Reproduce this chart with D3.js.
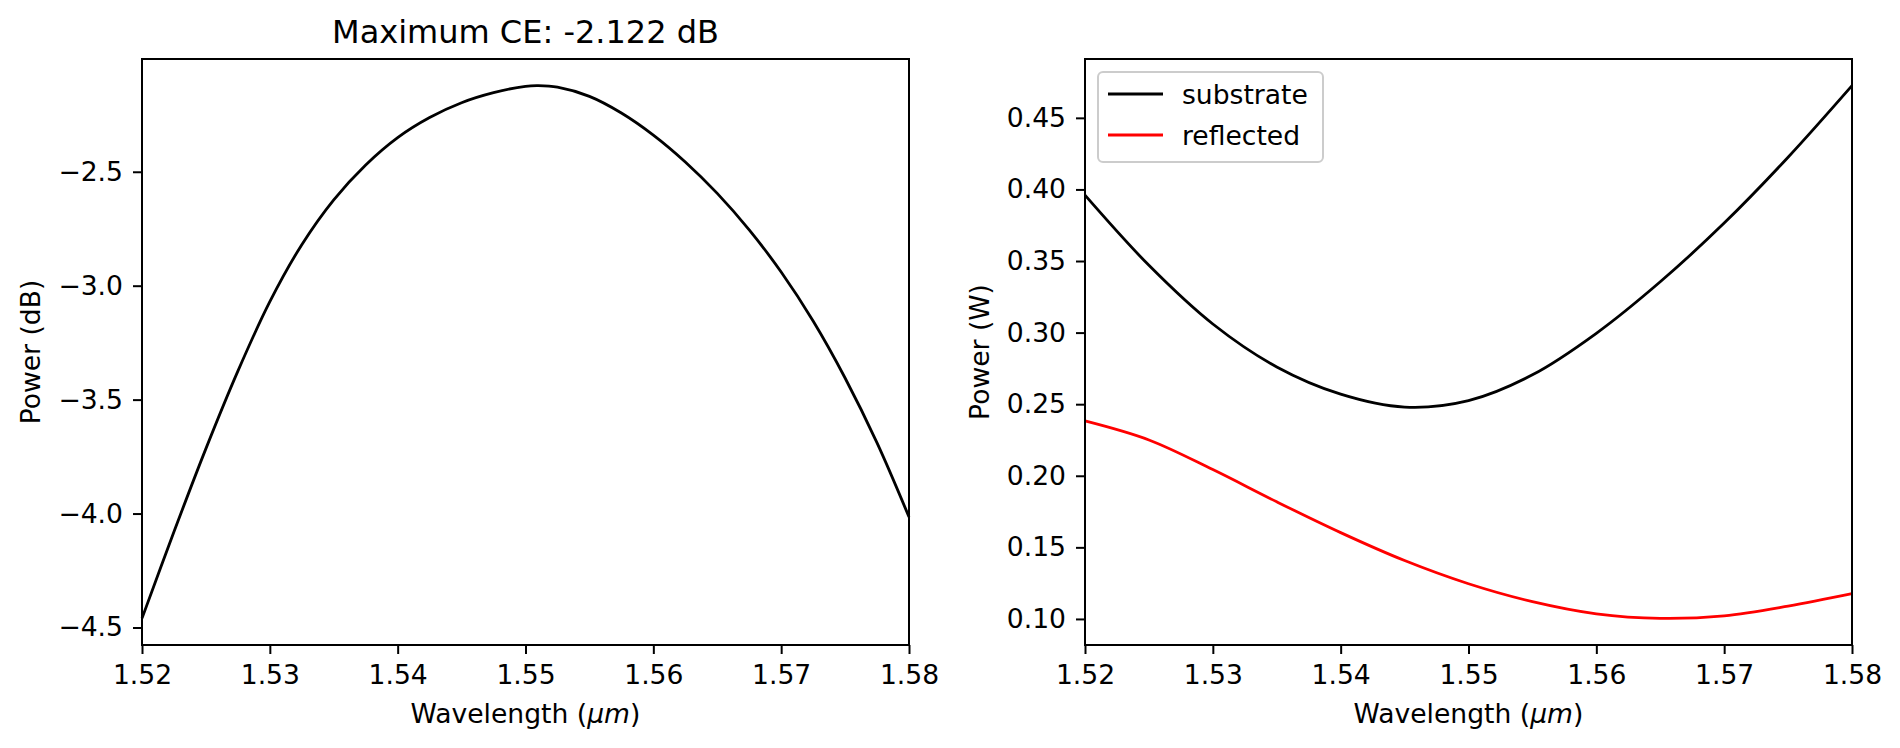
<!DOCTYPE html>
<html>
<head>
<meta charset="utf-8">
<script src="https://cdn.jsdelivr.net/npm/d3@7"></script>
<style>
  body { margin: 0; background: #fff; }
  svg { display: block; font-family: "DejaVu Sans", sans-serif; }
</style>
</head>
<body>
<svg id="chart" width="1900" height="748"></svg>
<script>
// left panel: conversion efficiency in dB
const ceWavelength = [1.52, 1.5225, 1.525, 1.5275, 1.53, 1.5325, 1.535, 1.5375, 1.54, 1.5425,
    1.545, 1.5475, 1.55, 1.551, 1.5525, 1.555, 1.5575, 1.56, 1.5625, 1.565, 1.5675, 1.57,
    1.5725, 1.575, 1.5775, 1.58];
const ceDb = [-4.46, -4.08, -3.715, -3.375, -3.07, -2.82, -2.623, -2.47, -2.35, -2.262,
    -2.197, -2.153, -2.1248, -2.122, -2.1285, -2.169, -2.242, -2.339, -2.457, -2.595, -2.755, -2.94,
    -3.155, -3.405, -3.69, -4.015];

// right panel: powers in W
const powWavelength = [1.52, 1.525, 1.53, 1.535, 1.54, 1.545, 1.55, 1.555, 1.56,
    1.565, 1.57, 1.575, 1.58];
const substrate = [0.396, 0.347, 0.306, 0.276, 0.257, 0.248, 0.2525, 0.2705, 0.2995,
    0.3355, 0.3765, 0.4225, 0.4725];
const reflected = [0.2383, 0.2250, 0.2043, 0.1818, 0.1603, 0.1408, 0.1246, 0.1121, 0.1036,
    0.1004, 0.1022, 0.1090, 0.1177];

const xTicks = [1.52, 1.53, 1.54, 1.55, 1.56, 1.57, 1.58];
const ceTicks = [-4.5, -4.0, -3.5, -3.0, -2.5];
const powTicks = [0.10, 0.15, 0.20, 0.25, 0.30, 0.35, 0.40, 0.45];

const maxCe = d3.max(ceDb);
const titleText = `Maximum CE: ${maxCe.toFixed(3)} dB`;

const svg = d3.select("#chart");
const fontSize = 26.6;
const plotTop = 59, plotBottom = 645;
const lineWidth = 2.8;

// matplotlib-like auto limits: data range plus 5% each side
const padded = (vals) => {
    const [lo, hi] = d3.extent(vals);
    const m = (hi - lo) * 0.05;
    return [lo - m, hi + m];
};

const drawPanel = (opts) => {
    const g = svg.append("g");
    const x = d3.scaleLinear().domain([1.52, 1.58]).range([opts.left, opts.right]);
    const y = d3.scaleLinear().domain(opts.yDomain).range([plotBottom, plotTop]);

    const xAxis = g.append("g")
        .attr("transform", `translate(0,${plotBottom})`)
        .call(d3.axisBottom(x).tickValues(xTicks).tickFormat(d3.format(".2f"))
            .tickSize(9).tickPadding(11));
    const yAxis = g.append("g")
        .attr("transform", `translate(${opts.left},0)`)
        .call(d3.axisLeft(y).tickValues(opts.yTicks).tickFormat(d3.format(opts.yFormat))
            .tickSize(9).tickPadding(10));

    [xAxis, yAxis].forEach((a) => {
        a.select(".domain").remove();
        a.selectAll(".tick line").attr("stroke", "#000").attr("stroke-width", 2);
        a.selectAll(".tick text")
            .attr("fill", "#000")
            .style("font-size", fontSize + "px")
            .style("font-family", "DejaVu Sans");
    });

    opts.series.forEach((s) => {
        const line = d3.line()
            .x((d, i) => x(s.xs[i]))
            .y((d) => y(d))
            .curve(d3.curveCatmullRom.alpha(0.5));
        g.append("path")
            .datum(s.ys)
            .attr("d", line)
            .attr("fill", "none")
            .attr("stroke", s.color)
            .attr("stroke-width", lineWidth);
    });

    g.append("rect")
        .attr("x", opts.left)
        .attr("y", plotTop)
        .attr("width", opts.right - opts.left)
        .attr("height", plotBottom - plotTop)
        .attr("fill", "none")
        .attr("stroke", "#000")
        .attr("stroke-width", 2);

    const xl = g.append("text")
        .attr("x", (opts.left + opts.right) / 2)
        .attr("y", 723)
        .attr("text-anchor", "middle")
        .style("font-size", fontSize + "px");
    xl.append("tspan").text("Wavelength (");
    xl.append("tspan").style("font-style", "italic").text("μm");
    xl.append("tspan").text(")");

    g.append("text")
        .attr("transform", `translate(${opts.labelX},${(plotTop + plotBottom) / 2}) rotate(-90)`)
        .attr("text-anchor", "middle")
        .style("font-size", fontSize + "px")
        .text(opts.yLabel);

    return { g, x, y };
};

const leftPanel = drawPanel({
    left: 142, right: 909,
    yDomain: padded(ceDb),
    yTicks: ceTicks, yFormat: ".1f",
    yLabel: "Power (dB)", labelX: 40,
    series: [{ xs: ceWavelength, ys: ceDb, color: "#000" }],
});

leftPanel.g.append("text")
    .attr("x", (142 + 909) / 2)
    .attr("y", 43)
    .attr("text-anchor", "middle")
    .style("font-size", "32px")
    .text(titleText);

const rightPanel = drawPanel({
    left: 1085, right: 1852,
    yDomain: padded(substrate.concat(reflected)),
    yTicks: powTicks, yFormat: ".2f",
    yLabel: "Power (W)", labelX: 989,
    series: [
        { xs: powWavelength, ys: substrate, color: "#000" },
        { xs: powWavelength, ys: reflected, color: "#ff0000" },
    ],
});

// legend
const legendItems = [
    { label: "substrate", color: "#000" },
    { label: "reflected", color: "#ff0000" },
];
const legend = rightPanel.g.append("g");
legend.append("rect")
    .attr("x", 1098).attr("y", 72)
    .attr("width", 225).attr("height", 90)
    .attr("rx", 5).attr("ry", 5)
    .attr("fill", "#fff").attr("fill-opacity", 0.8)
    .attr("stroke", "#cccccc").attr("stroke-width", 2);
legendItems.forEach((item, i) => {
    const cy = 94 + i * 41;
    legend.append("line")
        .attr("x1", 1108).attr("x2", 1163)
        .attr("y1", cy).attr("y2", cy)
        .attr("stroke", item.color).attr("stroke-width", lineWidth);
    legend.append("text")
        .attr("x", 1182).attr("y", cy + 9.5)
        .style("font-size", fontSize + "px")
        .text(item.label);
});
</script>
</body>
</html>
